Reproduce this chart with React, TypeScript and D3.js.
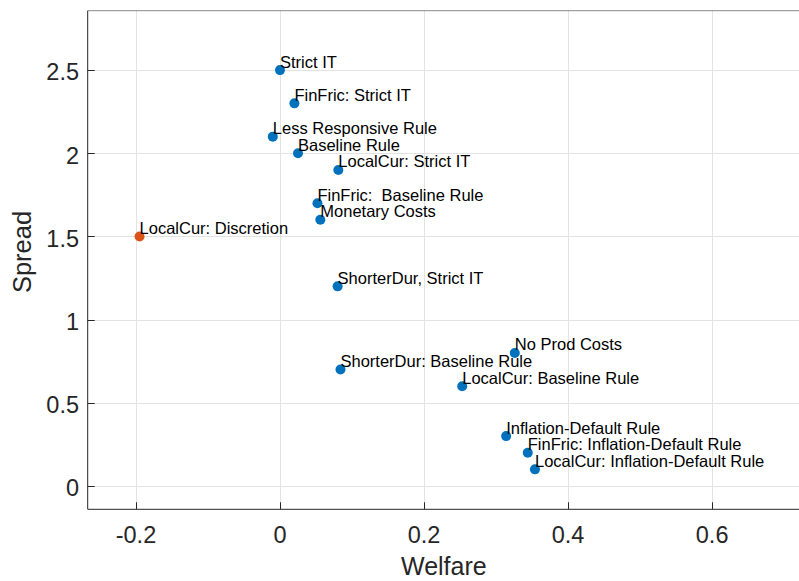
import React from "react";
import * as d3 from "d3";

// scenario names, welfare (x) and spread (y)
const labels = [
  "Strict IT",
  "FinFric: Strict IT",
  "Less Responsive Rule",
  "Baseline Rule",
  "LocalCur: Strict IT",
  "FinFric:  Baseline Rule",
  "Monetary Costs",
  "LocalCur: Discretion",
  "ShorterDur, Strict IT",
  "No Prod Costs",
  "ShorterDur: Baseline Rule",
  "LocalCur: Baseline Rule",
  "Inflation-Default Rule",
  "FinFric: Inflation-Default Rule",
  "LocalCur: Inflation-Default Rule",
];
const welfare = [0, 0.02, -0.01, 0.025, 0.081, 0.052, 0.056, -0.195, 0.08, 0.326, 0.084, 0.253, 0.314, 0.344, 0.354];
const spread = [2.5, 2.3, 2.1, 2.0, 1.9, 1.7, 1.6, 1.5, 1.2, 0.8, 0.7, 0.6, 0.3, 0.2, 0.1];
const discretion = "LocalCur: Discretion";

const xTicks = [-0.2, 0, 0.2, 0.4, 0.6];
const yTicks = [0, 0.5, 1, 1.5, 2, 2.5];

const W = 799, H = 581;
const left = 87.7, right = 800, top = 10.7, bottom = 509.3;

export default function App() {
  const x = d3.scaleLinear().domain([-0.267, 0.722]).range([left, right]);
  const y = d3.scaleLinear().domain([-0.14, 2.857]).range([bottom, top]);
  const fmt = (v: number) => (v === 0 ? "0" : String(v));
  const font = "Helvetica, Arial, 'Liberation Sans', sans-serif";
  const blue = "#0072BD", orange = "#D95319";

  return (
    <svg width={W} height={H} style={{ position: "absolute", left: 0, top: 0, background: "#fff" }} fontFamily={font}>
      <rect x={0} y={0} width={W} height={H} fill="#fff" />
      {/* grid */}
      {xTicks.map((t) => (
        <line key={"gx" + t} x1={Math.round(x(t)) + 0.5} x2={Math.round(x(t)) + 0.5} y1={top} y2={bottom} stroke="#e3e3e3" />
      ))}
      {yTicks.map((t) => (
        <line key={"gy" + t} x1={left} x2={right} y1={Math.round(y(t)) + 0.5} y2={Math.round(y(t)) + 0.5} stroke="#e3e3e3" />
      ))}
      {/* box */}
      <line x1={left} x2={right} y1={top} y2={top} stroke="#8a8a8a" />
      <line x1={left} x2={left} y1={top} y2={bottom} stroke="#262626" />
      <line x1={left} x2={right} y1={bottom} y2={bottom} stroke="#262626" />
      {/* ticks */}
      {xTicks.map((t) => (
        <g key={"tx" + t}>
          <line x1={Math.round(x(t)) + 0.5} x2={Math.round(x(t)) + 0.5} y1={bottom} y2={bottom - 7} stroke="#262626" />
          <text x={x(t)} y={543} textAnchor="middle" fontSize={23.5} fill="#262626">{fmt(t)}</text>
        </g>
      ))}
      {yTicks.map((t) => (
        <g key={"ty" + t}>
          <line x1={left} x2={left + 7} y1={Math.round(y(t)) + 0.5} y2={Math.round(y(t)) + 0.5} stroke="#262626" />
          <text x={79} y={y(t)} dy="0.44em" textAnchor="end" fontSize={23.5} fill="#262626">{fmt(t)}</text>
        </g>
      ))}
      {/* axis labels */}
      <text x={(left + right) / 2} y={575} textAnchor="middle" fontSize={25} fill="#262626">Welfare</text>
      <text transform={`translate(31,252) rotate(-90)`} textAnchor="middle" fontSize={25.5} fill="#262626">Spread</text>
      {/* points */}
      {labels.map((name, i) => (
        <g key={name}>
          <circle cx={x(welfare[i])} cy={y(spread[i])} r={5} fill={name === discretion ? orange : blue} />
          <text x={x(welfare[i])} y={y(spread[i] + 0.05)} dy="0.35em" fontSize={16.5} fill="#000" style={{ whiteSpace: "pre" }}>{name}</text>
        </g>
      ))}
    </svg>
  );
}
